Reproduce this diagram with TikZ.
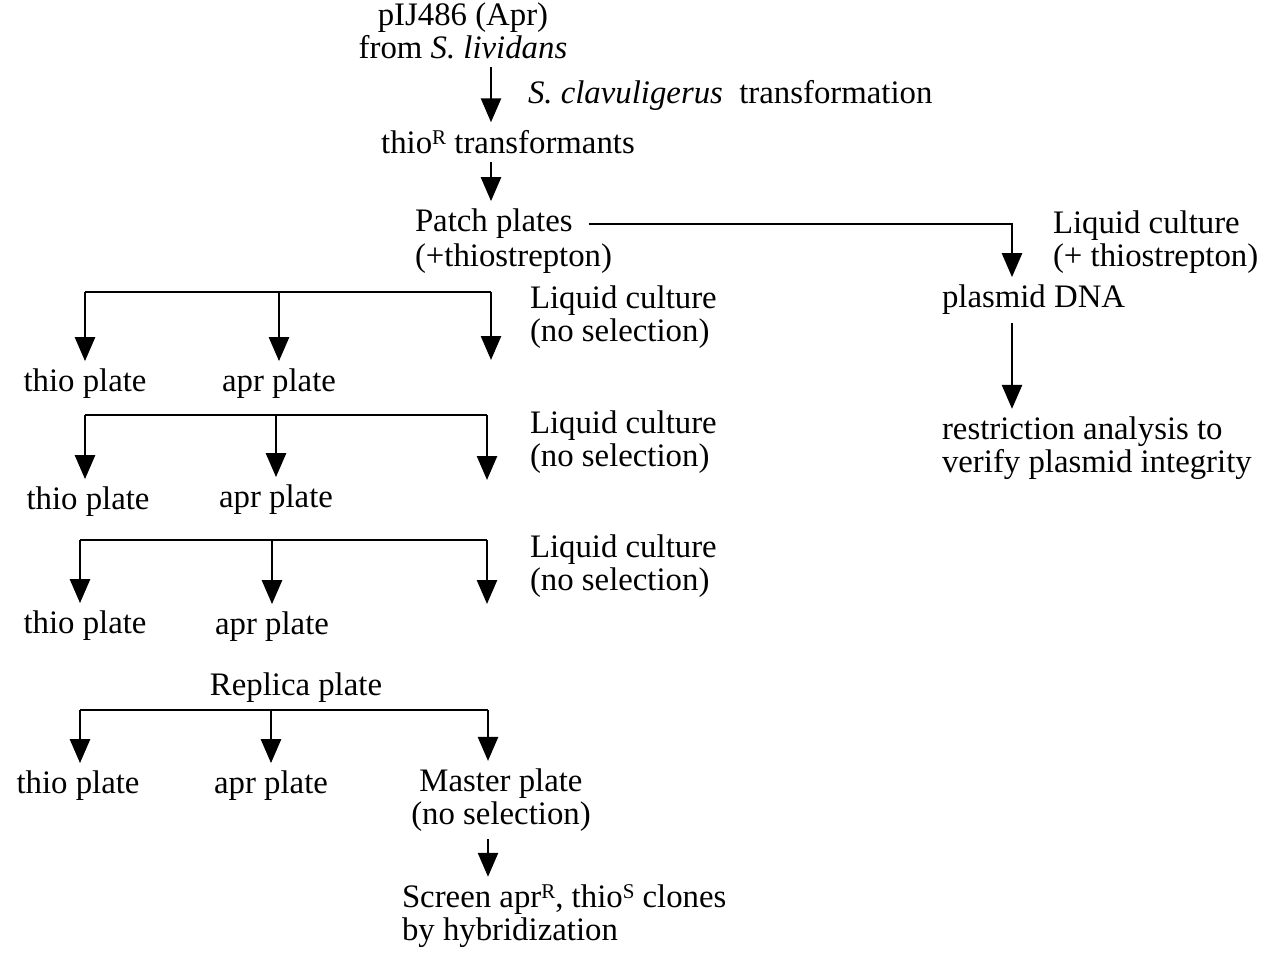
\documentclass[tikz,border=0pt]{standalone}
\usepackage{fontspec}
\setmainfont{Liberation Serif}
\usepackage{tikz}
\usetikzlibrary{positioning,calc,arrows.meta}
\newcommand{\flowfont}{\fontsize{16.4}{16.2}\selectfont}
\newcommand{\resmark}[1]{\raisebox{0.6ex}{\fontsize{10.5}{10.5}\selectfont #1}}

\begin{document}
\begin{tikzpicture}[x=0.5pt,y=-0.5pt,
  txt/.style={inner sep=0pt,outer sep=4pt,align=center,font=\flowfont},
  side/.style={inner sep=0pt,outer xsep=0pt,outer ysep=4pt,align=left,anchor=west,font=\flowfont},
  arrow/.style={-{Triangle[length=12pt,width=10pt]},line width=1.3pt},
  bar/.style={line width=1.3pt}
]
\useasboundingbox (0,0) rectangle (1267,952);
\coordinate (axis) at (491,0);
\coordinate (raxis) at (1012,0);

% main line
\node[txt] (source) at (463,31) {pIJ486 (Apr)\\from \textit{S. lividans}};
\node[side] (transf) at (528,95) {\textit{S. clavuligerus}\ \ transformation};
\node[txt] (thioR) at (508,142) {thio\resmark{R} transformants};
\node[side] (patch) at (415,224) {Patch plates};
\node[side] (patchsel) at (415,259) {(+thiostrepton)};
\draw[arrow] (source.south -| axis) -- (thioR.north -| axis);
\draw[arrow] (thioR.south -| axis) -- (patch.north -| axis);

% plasmid check
\node[side] (lcthio) at (1053,242) {Liquid culture\\(+ thiostrepton)};
\node[side] (plasmid) at (942,300) {plasmid DNA};
\node[side] (restr) at (942,448) {restriction analysis to\\verify plasmid integrity};
\draw[arrow] ([xshift=8pt]patch.east) -| (plasmid.north -| raxis);
\draw[arrow] (plasmid.south -| raxis) -- (restr.north -| raxis);

% round 1
\coordinate (bar1l) at (85,292);
\coordinate (bar1r) at (491,292);
\coordinate (end1) at (491,360);
\node[txt] (thio1) at (85,384) {thio plate};
\node[txt] (apr1) at (279,384) {apr plate};
\node[side] (lc1) at (530,317) {Liquid culture\\(no selection)};
\draw[bar] (bar1l) -- (bar1r);
\draw[arrow] (bar1l) -- (thio1);
\draw[arrow] (apr1 |- bar1l) -- (apr1);
\draw[arrow] (bar1r) -- (end1);

% round 2
\coordinate (bar2l) at (85,415);
\coordinate (bar2r) at (487,415);
\coordinate (end2) at (487,480);
\node[txt] (thio2) at (88,502) {thio plate};
\node[txt] (apr2) at (276,500) {apr plate};
\node[side] (lc2) at (530,442) {Liquid culture\\(no selection)};
\draw[bar] (bar2l) -- (bar2r);
\draw[arrow] (bar2l) -- (bar2l |- thio2.north);
\draw[arrow] (apr2 |- bar2l) -- (apr2);
\draw[arrow] (bar2r) -- (end2);

% round 3
\coordinate (bar3l) at (80,540);
\coordinate (bar3r) at (487,540);
\coordinate (end3) at (487,604);
\node[txt] (thio3) at (85,626) {thio plate};
\node[txt] (apr3) at (272,627) {apr plate};
\node[side] (lc3) at (530,566) {Liquid culture\\(no selection)};
\draw[bar] (bar3l) -- (bar3r);
\draw[arrow] (bar3l) -- (bar3l |- thio3.north);
\draw[arrow] (apr3 |- bar3l) -- (apr3);
\draw[arrow] (bar3r) -- (end3);

% replica
\node[txt] (replica) at (296,688) {Replica plate};
\coordinate (bar4l) at (80,710);
\coordinate (bar4r) at (488,710);
\node[txt] (thio4) at (78,786) {thio plate};
\node[txt] (apr4) at (271,786) {apr plate};
\node[txt] (master) at (501,800) {Master plate\\(no selection)};
\node[side] (screen) at (402,916) {Screen apr\resmark{R}, thio\resmark{S} clones\\by hybridization};
\draw[bar] (bar4l) -- (bar4r);
\draw[arrow] (bar4l) -- (bar4l |- thio4.north);
\draw[arrow] (apr4 |- bar4l) -- (apr4);
\draw[arrow] (bar4r) -- (bar4r |- master.north);
\draw[arrow] (master.south -| bar4r) -- (screen.north -| bar4r);
\end{tikzpicture}
\end{document}
